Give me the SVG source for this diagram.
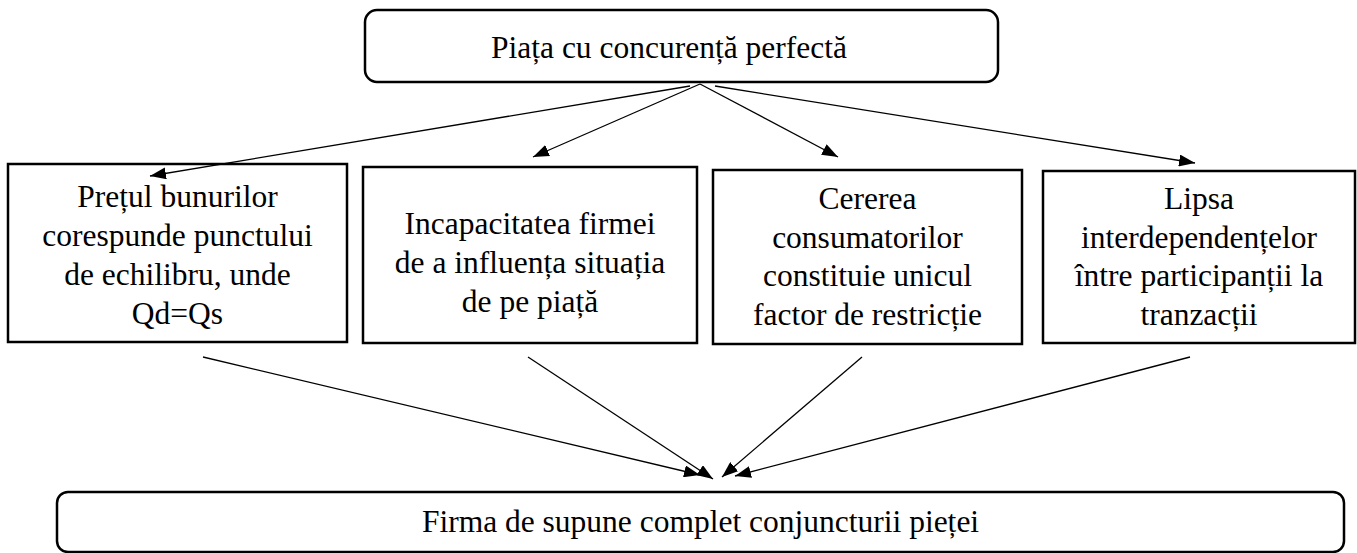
<svg xmlns="http://www.w3.org/2000/svg" width="1357" height="553" viewBox="0 0 1357 553">
<defs>
<marker id="ah" viewBox="0 0 16 12" refX="16" refY="6" markerWidth="16" markerHeight="12" markerUnits="userSpaceOnUse" orient="auto">
<path d="M0,0 L16,6 L0,12 Z" fill="#000"/>
</marker>
<style>
.box{fill:#fff;stroke:#000;stroke-width:2.5}
.t{font-family:"Liberation Serif","Times New Roman",serif;font-size:31.5px;fill:#000;text-anchor:middle}
.c{stroke:#000;stroke-width:1.3;fill:none;marker-end:url(#ah)}
</style>
</defs>
<rect width="1357" height="553" fill="#fff"/>
<g id="top">
<rect class="box" x="365" y="10" width="633" height="72" rx="12"/>
<text class="t" x="669" y="58">Piața cu concurență perfectă</text>
</g>
<g id="b1">
<rect class="box" x="8" y="164" width="339" height="178"/>
<text class="t" x="177.5" y="207">Prețul bunurilor</text>
<text class="t" x="177.5" y="246">corespunde punctului</text>
<text class="t" x="177.5" y="285">de echilibru, unde</text>
<text class="t" x="177.5" y="324">Qd=Qs</text>
</g>
<g id="b2">
<rect class="box" x="363" y="167" width="334" height="176"/>
<text class="t" x="530" y="234">Incapacitatea firmei</text>
<text class="t" x="530" y="273">de a influența situația</text>
<text class="t" x="530" y="312">de pe piață</text>
</g>
<g id="b3">
<rect class="box" x="713" y="170" width="309" height="174"/>
<text class="t" x="867.5" y="209">Cererea</text>
<text class="t" x="867.5" y="247.5">consumatorilor</text>
<text class="t" x="867.5" y="286">constituie unicul</text>
<text class="t" x="867.5" y="324.5">factor de restricție</text>
</g>
<g id="b4">
<rect class="box" x="1043" y="171" width="312" height="172"/>
<text class="t" x="1199" y="209">Lipsa</text>
<text class="t" x="1199" y="247.5">interdependențelor</text>
<text class="t" x="1199" y="286">între participanții la</text>
<text class="t" x="1199" y="324.5">tranzacții</text>
</g>
<g id="bottom">
<rect class="box" x="57" y="492" width="1287" height="60" rx="11"/>
<text class="t" x="700.5" y="532">Firma de supune complet conjuncturii pieței</text>
</g>
<g id="connectors">
<line class="c" x1="690" y1="86" x2="150" y2="176"/>
<line class="c" x1="700" y1="84" x2="533" y2="157"/>
<line class="c" x1="700" y1="84" x2="838" y2="157"/>
<line class="c" x1="715" y1="86" x2="1195" y2="163"/>
<line class="c" x1="203" y1="357" x2="700" y2="475"/>
<line class="c" x1="528" y1="357" x2="713" y2="479"/>
<line class="c" x1="862" y1="357" x2="722" y2="477"/>
<line class="c" x1="1190" y1="357" x2="735" y2="476"/>
</g>
</svg>
